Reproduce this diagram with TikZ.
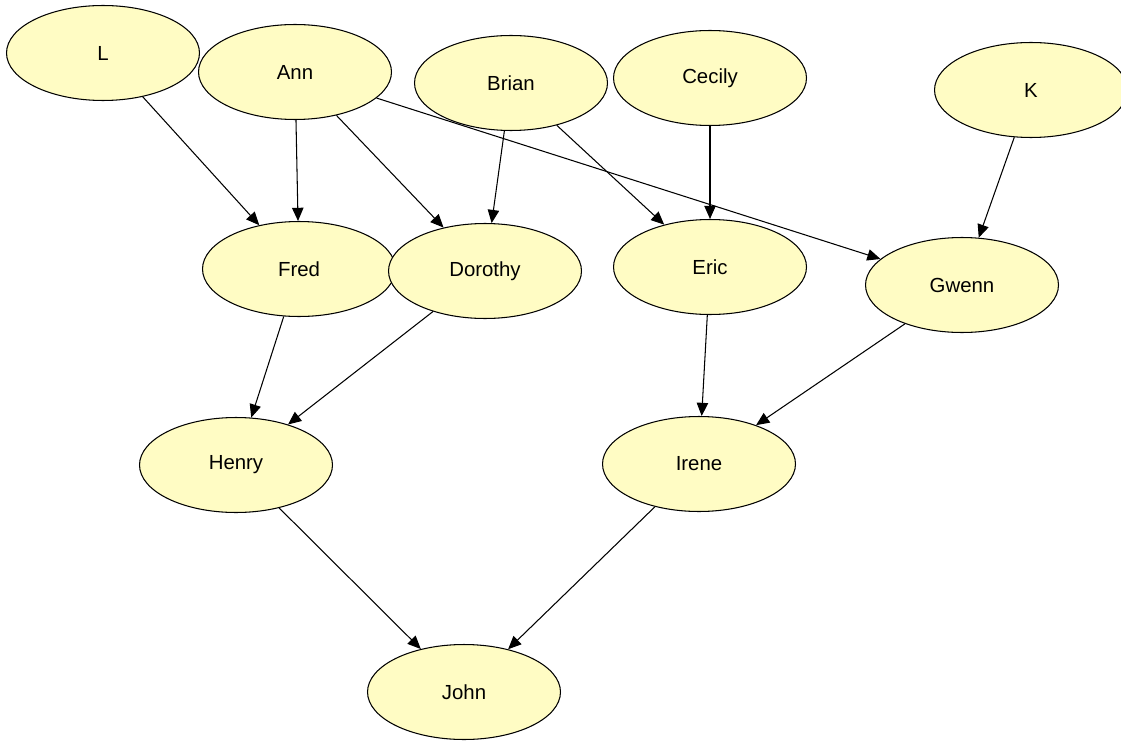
\documentclass[tikz,border=0pt]{standalone}
\usepackage{fontspec}
\setmainfont{Liberation Sans}
\usetikzlibrary{arrows.meta, shapes.geometric}

\definecolor{nodefill}{RGB}{255,252,196}

\begin{document}
\begin{tikzpicture}[x=0.02cm, y=-0.02cm, ->, >={Triangle[length=7.5pt,width=6.5pt]},
		line width=0.6pt,
		person/.style={ellipse, draw=black, fill=nodefill, line width=0.6pt,
			minimum width=3.86cm, minimum height=1.9cm, inner sep=0pt,
			font=\fontsize{11.6}{13}\selectfont}]

		\useasboundingbox (0,0) rectangle (1121,743);

		% top row
		\node[person] (L)      at (103,53)  {L};
		\node[person] (Ann)    at (295,72)  {Ann};
		\node[person] (Brian)  at (511,83)  {Brian};
		\node[person] (Cecily) at (710,78)  {Cecily};
		\node[person] (K)      at (1031,90) {K};

		% second row
		\node[person] (Fred)    at (299,269) {Fred};
		\node[person] (Dorothy) at (485,271) {Dorothy};
		\node[person] (Eric)    at (710,267) {Eric};
		\node[person] (Gwenn)   at (962,285) {Gwenn};

		% third row
		\node[person] (Henry) at (236,465) {Henry};
		\node[person] (Irene) at (699,464) {Irene};

		\node[person] (John) at (464,692) {John};

		\path (L)      edge (Fred);
		\path (Ann)    edge (Fred);
		\path (Ann)    edge (Dorothy);
		\path (Ann)    edge (Gwenn);
		\path (Brian)  edge (Dorothy);
		\path (Brian)  edge (Eric);
		\path (Cecily) edge (Eric);
		\path (K)      edge (Gwenn);
		\path (Fred)    edge (Henry);
		\path (Dorothy) edge (Henry);
		\path (Eric)    edge (Irene);
		\path (Gwenn)   edge (Irene);
		\path (Henry) edge (John);
		\path (Irene) edge (John);

	\end{tikzpicture}
\end{document}
